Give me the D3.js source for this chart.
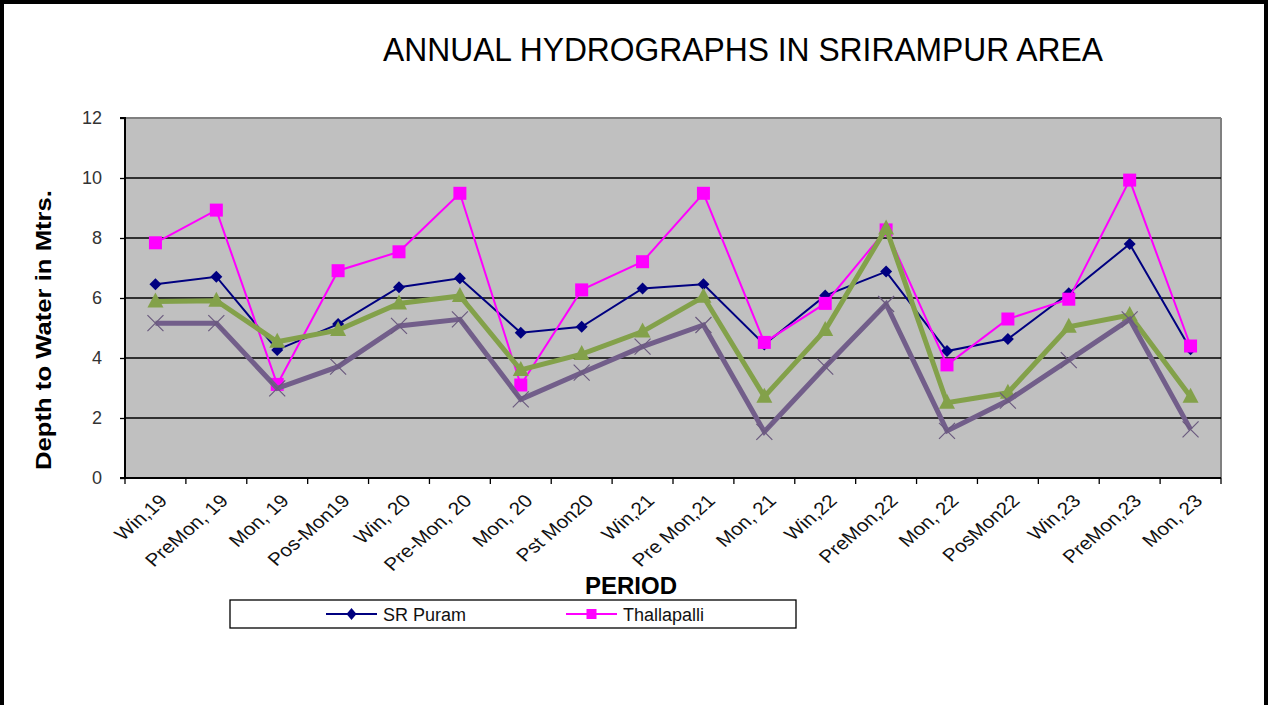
<!DOCTYPE html>
<html><head><meta charset="utf-8">
<script src="https://cdn.jsdelivr.net/npm/d3@7"></script>
<style>body{margin:0;background:#fff}svg{display:block}text{font-family:"Liberation Sans",Arial,sans-serif}</style>
</head><body>
<svg id="c" width="1269" height="705"></svg>
<script>
const categories = ["Win,19","PreMon, 19","Mon, 19","Pos-Mon19","Win, 20","Pre-Mon, 20","Mon, 20","Pst Mon20","Win,21","Pre Mon,21","Mon, 21","Win,22","PreMon,22","Mon, 22","PosMon22","Win,23","PreMon,23","Mon, 23"];
const srPuram = [6.46,6.71,4.27,5.13,6.36,6.66,4.84,5.04,6.32,6.46,4.45,6.08,6.88,4.23,4.63,6.16,7.80,4.29];
const thallapalli = [7.84,8.93,3.12,6.91,7.54,9.49,3.10,6.27,7.21,9.49,4.52,5.82,8.27,3.77,5.30,5.96,9.93,4.40];
const series3 = [5.88,5.91,4.54,4.93,5.82,6.07,3.60,4.13,4.88,6.04,2.71,4.93,8.32,2.51,2.84,5.04,5.43,2.71];
const series4 = [5.16,5.16,2.99,3.71,5.07,5.29,2.62,3.51,4.38,5.10,1.54,3.71,5.80,1.57,2.58,3.93,5.29,1.62];
const yTicks = [0,2,4,6,8,10,12];
const title = "ANNUAL HYDROGRAPHS IN SRIRAMPUR AREA";
const yTitle = "Depth to Water in Mtrs.";
const xTitle = "PERIOD";

const svg = d3.select("#c");
const L=125, R=1221, T=118, B=478;
const x = d3.scaleBand().domain(categories).range([L,R]).padding(0);
const y = d3.scaleLinear().domain([0,12]).range([B,T]);
const cx = d => x(d) + x.bandwidth()/2;

// outer frame
svg.append("rect").attr("x",2).attr("y",2).attr("width",1264).attr("height",720)
  .attr("fill","#fff").attr("stroke","#000").attr("stroke-width",4);

// plot area
svg.append("rect").attr("x",L).attr("y",T).attr("width",R-L).attr("height",B-T).attr("fill","#C0C0C0");
svg.append("line").attr("x1",L).attr("x2",R).attr("y1",T).attr("y2",T).attr("stroke","#808080").attr("stroke-width",2);
svg.append("line").attr("x1",R).attr("x2",R).attr("y1",T).attr("y2",B).attr("stroke","#808080").attr("stroke-width",2);

// gridlines
svg.append("g").selectAll("line").data(yTicks.filter(v=>v>0 && v<12)).join("line")
  .attr("x1",L).attr("x2",R).attr("y1",d=>y(d)).attr("y2",d=>y(d))
  .attr("stroke","#000").attr("stroke-width",1.3);

// y axis
const ya = svg.append("g").attr("transform",`translate(${L},0)`)
  .call(d3.axisLeft(y).tickValues(yTicks).tickSize(5).tickPadding(18).tickFormat(d3.format("d")));
ya.select(".domain").attr("stroke","#000").attr("stroke-width",2).attr("d",`M-5,${T}H0V${B}H-5`);
ya.selectAll(".tick line").attr("stroke","#000").attr("stroke-width",1.3);
ya.selectAll(".tick text").attr("font-size",18).attr("fill","#333").attr("font-family","Liberation Sans, Arial, sans-serif");

// x axis
const xa = svg.append("g").attr("transform",`translate(0,${B})`);
xa.append("line").attr("x1",L).attr("x2",R).attr("y1",0).attr("y2",0).attr("stroke","#000").attr("stroke-width",2);
xa.selectAll("line.tk").data(categories.concat(["__end"])).join("line").attr("class","tk")
  .attr("x1",(d,i)=>i<categories.length ? x(d) : R).attr("x2",(d,i)=>i<categories.length ? x(d) : R)
  .attr("y1",0).attr("y2",6).attr("stroke","#000").attr("stroke-width",1.3);
xa.selectAll("text").data(categories).join("text")
  .attr("transform",d=>`translate(${cx(d)+13},${24}) scale(1.15,1) rotate(-45)`)
  .attr("text-anchor","end").attr("font-size",18).attr("fill","#111").text(d=>d);

// series
function drawSeries(vals, color, width){
  const line = d3.line().x((d,i)=>cx(categories[i])).y(d=>y(d));
  svg.append("path").datum(vals).attr("d",line).attr("fill","none").attr("stroke",color).attr("stroke-width",width).attr("stroke-linejoin","miter");
}
drawSeries(srPuram,"#000080",2);
svg.append("g").selectAll("path").data(srPuram).join("path")
  .attr("transform",(d,i)=>`translate(${cx(categories[i])},${y(d)})`)
  .attr("d","M0,-6L6,0L0,6L-6,0Z").attr("fill","#000080");
drawSeries(thallapalli,"#FF00FF",2);
svg.append("g").selectAll("rect").data(thallapalli).join("rect")
  .attr("x",(d,i)=>cx(categories[i])-6.5).attr("y",d=>y(d)-6.5).attr("width",13).attr("height",13).attr("fill","#FF00FF");
drawSeries(series3,"#83A14A",5);
svg.append("g").selectAll("path").data(series3).join("path")
  .attr("transform",(d,i)=>`translate(${cx(categories[i])},${y(d)})`)
  .attr("d","M0,-9L8,6L-8,6Z").attr("fill","#83A14A");
drawSeries(series4,"#725E8A",5);
svg.append("g").selectAll("path").data(series4).join("path")
  .attr("transform",(d,i)=>`translate(${cx(categories[i])},${y(d)})`)
  .attr("d","M-8,-8L8,8M-8,8L8,-8").attr("stroke","#6A5A7E").attr("stroke-width",1.2).attr("fill","none");

// titles
svg.append("text").attr("x",383).attr("y",61).attr("font-size",33).attr("textLength",720)
  .attr("lengthAdjust","spacingAndGlyphs").attr("fill","#000").text(title);
svg.append("text").attr("transform","translate(51,330) rotate(-90)").attr("text-anchor","middle")
  .attr("font-size",22).attr("font-weight","bold").attr("textLength",280).attr("lengthAdjust","spacingAndGlyphs")
  .attr("fill","#000").text(yTitle);
svg.append("text").attr("x",631).attr("y",594).attr("text-anchor","middle").attr("font-size",24)
  .attr("font-weight","bold").attr("fill","#000").text(xTitle);

// legend
const lg = svg.append("g");
lg.append("rect").attr("x",230).attr("y",600).attr("width",566).attr("height",28).attr("fill","#fff").attr("stroke","#000").attr("stroke-width",1.3);
const legendItems = [
  {name:"SR Puram", color:"#000080", x0:326, shape:"diamond"},
  {name:"Thallapalli", color:"#FF00FF", x0:566, shape:"square"}
];
legendItems.forEach(it=>{
  lg.append("line").attr("x1",it.x0).attr("x2",it.x0+51).attr("y1",614).attr("y2",614).attr("stroke",it.color).attr("stroke-width",2);
  const mx = it.x0+25.5;
  if(it.shape==="diamond") lg.append("path").attr("d",`M${mx},608L${mx+5},614L${mx},620L${mx-5},614Z`).attr("fill",it.color);
  else lg.append("rect").attr("x",mx-5).attr("y",609).attr("width",10).attr("height",10).attr("fill",it.color);
  lg.append("text").attr("x",it.x0+57).attr("y",620.5).attr("font-size",18).attr("fill","#111").text(it.name);
});
</script>
</body></html>
